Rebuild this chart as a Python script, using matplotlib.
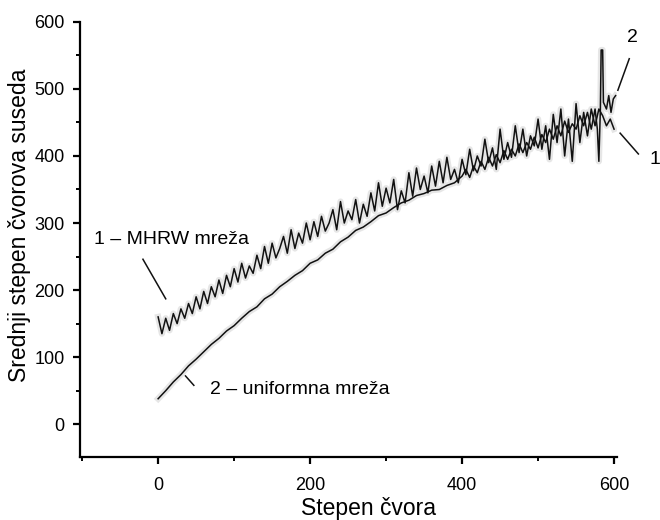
import matplotlib
matplotlib.use('Agg')
import matplotlib.pyplot as plt
from matplotlib.ticker import MultipleLocator

plt.rcParams['font.family'] = ['Liberation Sans', 'DejaVu Sans']

# stepen cvora (x) i srednji stepen suseda (y), ocitano sa slike
mhrw_x = list(range(0, 601, 5))
mhrw_y = [160, 135, 158, 140, 165, 150, 172, 158, 180, 165,
          190, 172, 198, 180, 205, 190, 215, 195, 222, 205,
          232, 212, 240, 218, 236, 225, 252, 232, 265, 240,
          270, 248, 262, 280, 255, 290, 262, 285, 270, 300,
          275, 302, 280, 310, 288, 300, 320, 290, 332, 300,
          318, 305, 335, 300, 328, 310, 345, 318, 360, 325,
          352, 330, 365, 320, 348, 330, 375, 340, 382, 350,
          370, 345, 385, 355, 392, 360, 398, 365, 380, 360,
          395, 372, 410, 378, 400, 385, 425, 390, 412, 380,
          440, 395, 420, 398, 445, 405, 440, 400, 430, 415,
          455, 410, 445, 395, 462, 420, 470, 400, 455, 392,
          478, 420, 465, 430, 470, 445, 470, 460, 445, 455,
          440]

unif_x = [0, 10, 20, 30, 40, 50, 60, 70, 80, 90,
          100, 110, 120, 130, 140, 150, 160, 170, 180, 190,
          200, 210, 220, 230, 240, 250, 260, 270, 280, 290,
          300, 310, 320, 330, 340, 350, 360, 370, 380, 390,
          400, 405, 410, 415, 420, 425, 430, 435, 440, 445,
          450, 455, 460, 465, 470, 475, 480, 485, 490, 495,
          500, 505, 510, 515, 520, 525, 530, 535, 540, 545,
          550, 555, 560, 565, 570, 575, 578, 580, 582, 583,
          585, 586, 590, 593, 596, 599, 602]
unif_y = [38, 50, 63, 74, 87, 97, 108, 119, 128, 139,
          147, 158, 168, 175, 187, 194, 205, 213, 222, 229,
          240, 245, 255, 261, 272, 279, 289, 294, 302, 311,
          315, 323, 330, 334, 341, 344, 349, 350, 356, 360,
          370, 380, 368, 385, 375, 392, 380, 398, 385, 402,
          390, 408, 395, 410, 400, 418, 405, 420, 410, 428,
          412, 432, 420, 440, 425, 445, 430, 452, 435, 448,
          440, 460, 445, 465, 440, 470, 440, 392, 470, 558,
          558, 480, 470, 490, 465, 485, 490]

fig = plt.figure(figsize=(6.6, 5.2), dpi=100)
ax = fig.add_axes([0.121, 0.121, 0.814, 0.837])

# siva "senka" oko linija kao na skeniranoj slici
ax.plot(mhrw_x, mhrw_y, color='#e6e6e6', lw=4.5, solid_joinstyle='round', zorder=1)
ax.plot(unif_x, unif_y, color='#e6e6e6', lw=4.5, solid_joinstyle='round', zorder=1)
ax.plot(mhrw_x, mhrw_y, color='#111111', lw=1.1, zorder=3)
ax.plot(unif_x, unif_y, color='#111111', lw=1.1, zorder=3)

ax.set_xlim(-103, 604)
ax.set_ylim(-49, 600)
for s in ['top', 'right']:
    ax.spines[s].set_visible(False)
for s in ['left', 'bottom']:
    ax.spines[s].set_linewidth(1.6)

ax.xaxis.set_major_locator(MultipleLocator(200))
ax.xaxis.set_minor_locator(MultipleLocator(100))
ax.yaxis.set_major_locator(MultipleLocator(100))
ax.yaxis.set_minor_locator(MultipleLocator(50))
ax.tick_params(which='major', direction='out', length=5, width=1.6,
               labelsize=13, pad=6)
ax.tick_params(which='minor', direction='out', length=3, width=1.4)
ax.tick_params(axis='x', which='major', pad=9)

ax.set_xlabel('Stepen čvora', fontsize=16.5)
ax.set_ylabel('Srednji stepen čvorova suseda', fontsize=16.5)
ax.xaxis.set_label_coords(0.538, -0.117)
ax.yaxis.set_label_coords(-0.112, 0.533)
ax.xaxis.label.set_va('center')
ax.yaxis.label.set_va('center')

ax.text(-85, 275, '1 – MHRW mreža', fontsize=14, va='center', ha='left')
ax.plot([-20, 10], [246, 187], color='#111111', lw=1.1)
ax.text(68, 52, '2 – uniformna mreža', fontsize=14, va='center', ha='left')
ax.plot([36, 47], [72, 58], color='#111111', lw=1.1)

ax.text(624, 576, '2', fontsize=14, va='center', ha='center', clip_on=False)
ax.plot([620, 605], [545, 498], color='#111111', lw=1.1, clip_on=False)
ax.text(654, 394, '1', fontsize=14, va='center', ha='center', clip_on=False)
ax.plot([608, 632], [434, 403], color='#111111', lw=1.1, clip_on=False)

fig.savefig('out.png', dpi=100)
